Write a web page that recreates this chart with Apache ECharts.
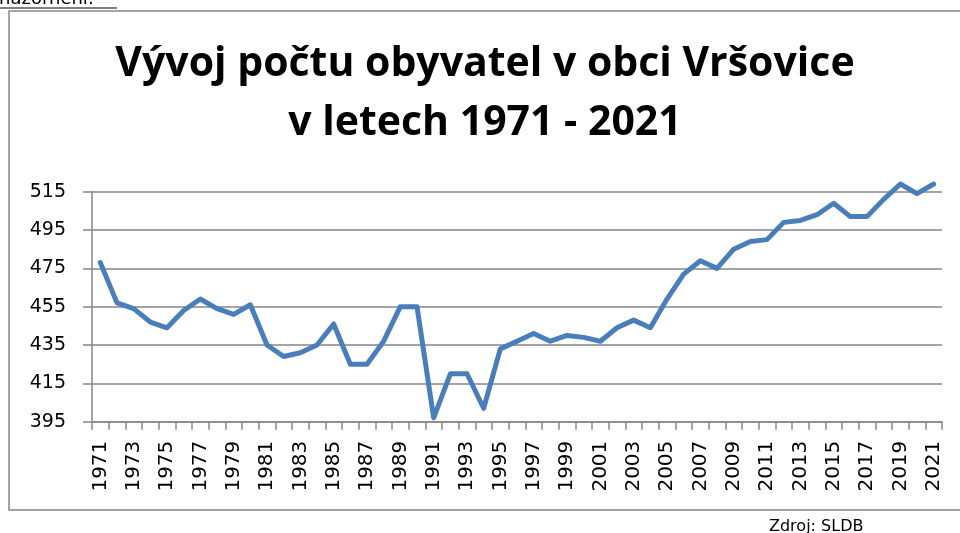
<!DOCTYPE html>
<html lang="cs">
<head>
    <meta charset="UTF-8">
    <title>Vývoj počtu obyvatel</title>
    <script src="https://cdn.jsdelivr.net/npm/echarts@6/dist/echarts.min.js"></script>
</head>
<style>
    *{
        margin: 0;
        padding: 0;
    }
    html,body{
        width: 100%;
        height: 100%;
        overflow: hidden;
        background: #fff;
    }
    .container{
        width: 960px;
        height: 533px;
    }
</style>
<body>
<div class="container"></div>
<script>
   // roky (kategorie osy x)
   let years = ['1971','1972','1973','1974','1975','1976','1977','1978','1979','1980',
       '1981','1982','1983','1984','1985','1986','1987','1988','1989','1990',
       '1991','1992','1993','1994','1995','1996','1997','1998','1999','2000',
       '2001','2002','2003','2004','2005','2006','2007','2008','2009','2010',
       '2011','2012','2013','2014','2015','2016','2017','2018','2019','2020','2021'];

   // počet obyvatel
   let population = [478,457,454,447,444,453,459,454,451,456,
       435,429,431,435,446,425,425,437,455,455,
       397,420,420,402,433,437,441,437,440,439,
       437,444,448,444,459,472,479,475,485,489,
       490,499,500,503,509,502,502,511,519,514,519];

   let yMin = 395, yMax = 515, yStep = 20;

   let container = document.querySelector('.container');
   let mycharts = echarts.init(container);
   let gray = '#868686';

   let options = {
       animation: false,
       title: {
           text: 'Vývoj počtu obyvatel v obci Vršovice\nv letech 1971 - 2021',
           left: 480,
           top: 30,
           textAlign: 'center',
           textStyle: {
               fontFamily: 'Open Sans',
               fontWeight: 'bold',
               fontSize: 41,
               lineHeight: 59,
               color: '#000'
           }
       },
       grid: {
           left: 92,
           right: 18,
           top: 191.7,
           bottom: 111.3
       },
       xAxis: {
           type: 'category',
           data: years,
           boundaryGap: true,
           axisLine: {lineStyle: {color: gray, width: 1.5}},
           axisTick: {show: true, interval: 0, length: 8, lineStyle: {color: gray, width: 1.5}},
           axisLabel: {
               interval: 1,
               rotate: 90,
               margin: 19,
               color: '#000',
               fontFamily: 'DejaVu Sans',
               fontSize: 20
           },
           splitLine: {show: false}
       },
       yAxis: {
           type: 'value',
           min: yMin,
           max: yMax,
           interval: yStep,
           axisLine: {show: true, lineStyle: {color: gray, width: 1.5}},
           axisTick: {show: true, length: 9, lineStyle: {color: gray, width: 1.5}},
           axisLabel: {
               margin: 26,
               color: '#000',
               fontFamily: 'DejaVu Sans',
               fontSize: 19
           },
           splitLine: {lineStyle: {color: gray, width: 1.5}}
       },
       series: [{
           type: 'line',
           data: population,
           clip: false,
           showSymbol: false,
           symbol: 'none',
           lineStyle: {color: '#4a7ebb', width: 5, join: 'round', cap: 'round'},
           itemStyle: {color: '#4a7ebb'}
       }],
       graphic: [
           {
               type: 'rect',
               shape: {x: 9, y: 11, width: 1000, height: 499},
               style: {fill: 'none', stroke: gray, lineWidth: 1.5},
               silent: true
           },
           {
               type: 'text',
               left: -1,
               top: -10,
               style: {text: 'názornění.', fontFamily: 'DejaVu Sans', fontSize: 18, fill: '#000'}
           },
           {
               type: 'line',
               shape: {x1: 0, y1: 8, x2: 117, y2: 8},
               style: {stroke: '#000', lineWidth: 1.2}
           },
           {
               type: 'text',
               left: 769,
               top: 519,
               style: {text: 'Zdroj: SLDB', fontFamily: 'DejaVu Sans', fontSize: 16, fill: '#000'}
           }
       ]
   };
   mycharts.setOption(options);
</script>
</body>
</html>
